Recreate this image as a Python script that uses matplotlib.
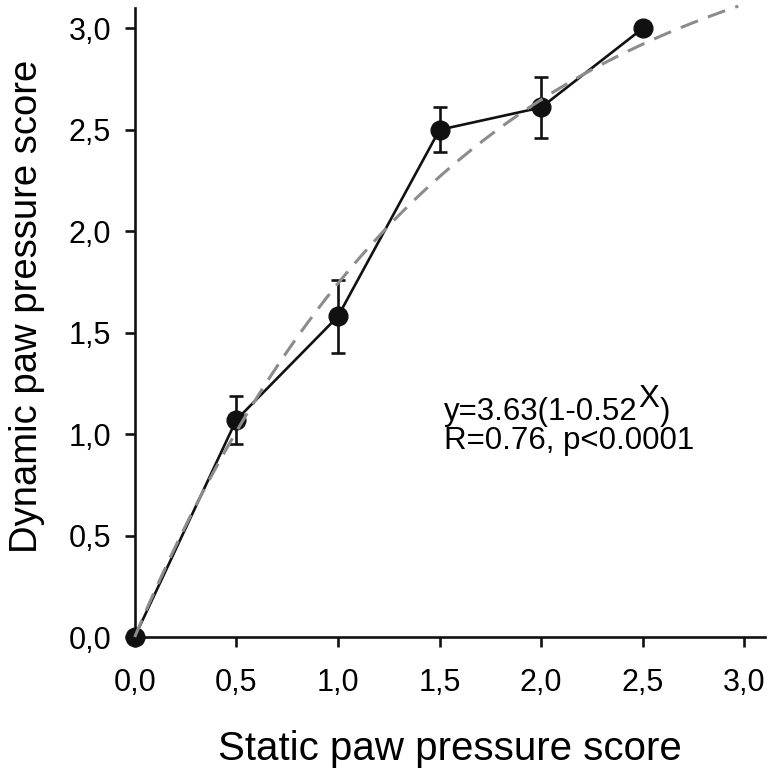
import numpy as np
import matplotlib
matplotlib.use("Agg")
import matplotlib.pyplot as plt
from matplotlib.ticker import FuncFormatter

plt.rcParams['font.family'] = ['Liberation Sans', 'DejaVu Sans']

# data
static_score = [0.0, 0.5, 1.0, 1.5, 2.0, 2.5]
dynamic_score = [0.0, 1.07, 1.58, 2.50, 2.61, 3.00]
dynamic_err = [0.0, 0.12, 0.18, 0.11, 0.15, 0.0]

# fitted curve y = A(1 - B^x)
FIT_A = 3.63
FIT_B = 0.52
FIT_XMAX = 2.97

ticks = [0.0, 0.5, 1.0, 1.5, 2.0, 2.5, 3.0]

fig = plt.figure(figsize=(7.74, 7.75), dpi=100)
ax = fig.add_axes([0.174, 0.178, 0.814, 0.8116])

ax.errorbar(static_score, dynamic_score, yerr=dynamic_err, color='#111111',
            lw=1.9, marker='o', ms=13.5, capsize=5, capthick=1.9, elinewidth=1.9,
            zorder=2, clip_on=False)

xf = np.linspace(0, FIT_XMAX, 200)
ax.plot(xf, FIT_A * (1 - FIT_B ** xf), color='#8c8c8c', lw=2.2,
        dashes=(6, 3.5), zorder=3, clip_on=False)

# equation, with a full size raised X like the original
FS = 22.5
t1 = ax.text(1.52, 1.071, 'y=3.63(1-0.52', fontsize=FS, va='baseline')
t2 = ax.annotate('X', xy=(1, 0), xycoords=t1, xytext=(0.5, 9.5),
                 textcoords='offset points', fontsize=FS, va='bottom')
ax.annotate(')', xy=(1, 0), xycoords=t2, xytext=(0.5, -9.5),
            textcoords='offset points', fontsize=FS, va='bottom')
ax.text(1.52, 0.927, 'R=0.76, p<0.0001', fontsize=FS, va='baseline')

ax.set_xlim(0, 3.1)
ax.set_ylim(0, 3.1)
ax.set_xticks(ticks)
ax.set_yticks(ticks)
fmt = FuncFormatter(lambda v, p: f"{v:.1f}".replace('.', ','))
ax.xaxis.set_major_formatter(fmt)
ax.yaxis.set_major_formatter(fmt)

for s in ['top', 'right']:
    ax.spines[s].set_visible(False)
for s in ['left', 'bottom']:
    ax.spines[s].set_linewidth(1.9)
    ax.spines[s].set_color('#111111')
ax.tick_params(length=7, width=1.9, labelsize=22, color='#111111')
ax.tick_params(axis='x', pad=15)
ax.tick_params(axis='y', pad=10)

ax.set_xlabel('Static paw pressure score', fontsize=29, labelpad=23)
ax.set_ylabel('Dynamic paw pressure score', fontsize=27.5)
ax.yaxis.set_label_coords(-0.143, 0.526)

fig.savefig('out.png', dpi=100)
